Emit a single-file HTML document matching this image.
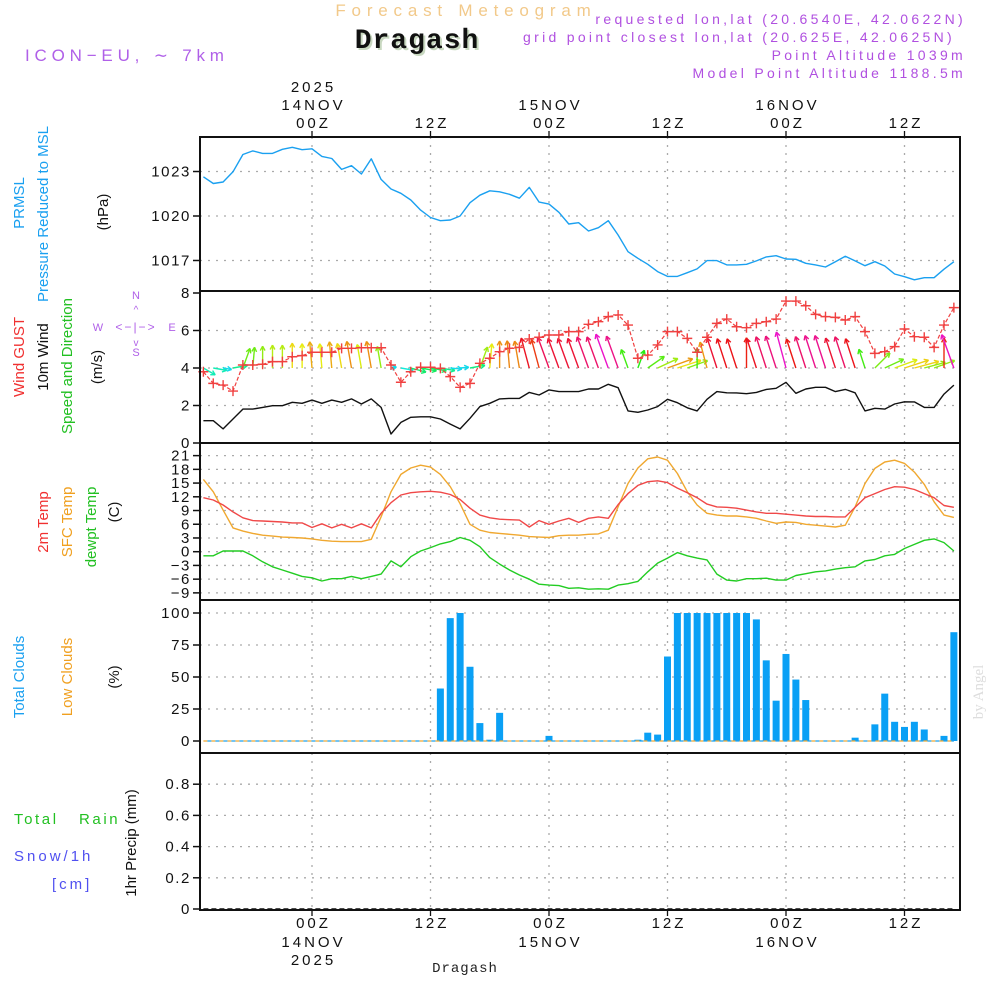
<!DOCTYPE html>
<html><head><meta charset="utf-8"><title>Meteogram Dragash</title>
<style>
html,body{margin:0;padding:0;background:#fff;}
svg{display:block;font-family:"Liberation Sans",sans-serif;}
.tk{font-size:15px;fill:#111;letter-spacing:1.6px;}
.tt{font-size:15px;fill:#111;letter-spacing:3px;}
</style></head>
<body>
<svg id="chart" width="1000" height="1000" viewBox="0 0 1000 1000" xmlns="http://www.w3.org/2000/svg">
<rect width="1000" height="1000" fill="#fff"/>
<text x="466" y="16" text-anchor="middle" font-size="17" fill="#f2c98a" letter-spacing="5.8">Forecast Meteogram</text>
<text x="419" y="50" text-anchor="middle" font-family="Liberation Mono,monospace" font-weight="bold" font-size="28" fill="#c8d8c0" letter-spacing="1">Dragash</text>
<text x="417" y="48" text-anchor="middle" font-family="Liberation Mono,monospace" font-weight="bold" font-size="28" fill="#111" letter-spacing="1">Dragash</text>
<text x="25" y="61" font-size="17" fill="#b060e8" letter-spacing="4.8">ICON−EU, ∼ 7km</text>
<g font-size="14" fill="#b050e0" text-anchor="end" letter-spacing="3.3">
<text x="966" y="24">requested lon,lat (20.6540E, 42.0622N)</text>
<text x="955" y="42">grid point closest lon,lat (20.625E, 42.0625N)</text>
<text x="966" y="60">Point Altitude 1039m</text>
<text x="966" y="78">Model Point Altitude 1188.5m</text>
</g>
<g id="axes"></g>
<g id="marks"></g>
<g id="labels" font-size="15">
<text transform="translate(24,203) rotate(-90)" text-anchor="middle" fill="#1aa0f0">PRMSL</text>
<text transform="translate(48,214) rotate(-90)" text-anchor="middle" fill="#1aa0f0">Pressure Reduced to MSL</text>
<text transform="translate(108,212) rotate(-90)" text-anchor="middle" fill="#111">(hPa)</text>
<text transform="translate(24,357) rotate(-90)" text-anchor="middle" fill="#f03030">Wind GUST</text>
<text transform="translate(48,357) rotate(-90)" text-anchor="middle" fill="#111">10m Wind</text>
<text transform="translate(72,366) rotate(-90)" text-anchor="middle" fill="#22c022">Speed and Direction</text>
<text transform="translate(102,367) rotate(-90)" text-anchor="middle" fill="#111">(m/s)</text>
<g font-size="11" fill="#b060e8" text-anchor="middle">
<text x="136" y="299">N</text><text x="136" y="356">S</text><text x="98" y="331">W</text><text x="172" y="331">E</text>
<text x="136" y="331" font-size="12" letter-spacing="2">&lt;−|−&gt;</text>
<text x="136" y="313" font-size="10">^</text><text x="136" y="346" font-size="10">v</text>
</g>
<text transform="translate(48,522) rotate(-90)" text-anchor="middle" fill="#f03030">2m Temp</text>
<text transform="translate(72,522) rotate(-90)" text-anchor="middle" fill="#f0a020">SFC Temp</text>
<text transform="translate(96,527) rotate(-90)" text-anchor="middle" fill="#22c022">dewpt Temp</text>
<text transform="translate(119,512) rotate(-90)" text-anchor="middle" fill="#111">(C)</text>
<text transform="translate(24,677) rotate(-90)" text-anchor="middle" fill="#1aa0f0">Total Clouds</text>
<text transform="translate(72,677) rotate(-90)" text-anchor="middle" fill="#f0a020">Low Clouds</text>
<text transform="translate(119,677) rotate(-90)" text-anchor="middle" fill="#111">(%)</text>
<text x="14" y="824" fill="#22c022" letter-spacing="2.6" xml:space="preserve">Total   Rain</text>
<text x="14" y="861" fill="#5050f0" letter-spacing="3">Snow/1h</text>
<text x="52" y="889" fill="#5050f0" letter-spacing="3">[cm]</text>
<text transform="translate(136,843) rotate(-90)" text-anchor="middle" fill="#111">1hr Precip (mm)</text>
<text transform="translate(983,692) rotate(-90)" text-anchor="middle" font-family="Liberation Serif,serif" font-size="15" fill="#ddd">by Angel</text>
<text x="465" y="972" text-anchor="middle" font-family="Liberation Mono,monospace" font-size="14" fill="#222" letter-spacing="1">Dragash</text>
</g>
</svg>
<script>
// hours relative to 14NOV 00Z
const hours = [];
for (let h = -11; h <= 65; h++) hours.push(h);
const pressure = [1022.64,1022.19,1022.29,1022.98,1024.15,1024.39,1024.22,1024.22,1024.5,1024.63,1024.47,1024.53,1024.02,1023.88,1023.14,1023.39,1022.83,1023.86,1022.47,1021.82,1021.53,1021.08,1020.4,1019.9,1019.68,1019.73,1020.0,1020.9,1021.4,1021.7,1021.63,1021.46,1021.2,1021.93,1020.94,1020.8,1020.25,1019.46,1019.55,1018.99,1019.21,1019.68,1018.72,1017.59,1017.15,1016.74,1016.25,1015.93,1015.93,1016.18,1016.43,1016.99,1016.99,1016.70,1016.70,1016.74,1016.97,1017.24,1017.32,1017.1,1017.08,1016.81,1016.70,1016.56,1016.92,1017.28,1016.97,1016.65,1016.92,1016.63,1016.09,1015.91,1015.70,1015.84,1015.84,1016.41,1016.92];
const windSpeed = [1.19,1.19,0.75,1.28,1.81,1.81,1.90,1.99,1.99,2.17,2.12,2.29,2.12,2.29,2.17,2.35,2.08,2.35,1.90,0.48,1.10,1.37,1.40,1.40,1.28,1.01,0.75,1.32,1.94,2.12,2.35,2.38,2.38,2.70,2.56,2.83,2.74,2.74,2.74,2.88,2.88,3.13,2.95,1.71,1.64,1.76,1.94,2.33,2.15,1.88,1.71,2.33,2.74,2.68,2.67,2.63,2.70,2.86,2.92,3.24,2.65,2.88,2.97,2.97,2.74,2.86,2.68,1.71,1.85,1.81,2.08,2.20,2.19,1.90,1.90,2.61,3.09];
const windGust = [3.80,3.18,3.09,2.77,4.16,4.16,4.20,4.34,4.34,4.60,4.66,4.84,4.84,4.84,5.05,5.05,5.08,5.08,5.08,4.16,3.24,3.80,4.04,4.04,3.98,3.54,2.97,3.18,4.25,4.52,4.87,5.05,5.10,5.55,5.64,5.76,5.76,5.94,5.94,6.33,6.47,6.74,6.83,6.29,4.52,4.69,5.23,5.94,5.94,5.58,4.84,5.64,6.38,6.61,6.20,6.15,6.38,6.47,6.61,7.57,7.57,7.32,6.86,6.74,6.70,6.56,6.74,5.94,4.78,4.87,5.14,6.08,5.67,5.64,5.10,6.29,7.22];
const windDir = [120,100,100,80,20,5,0,0,0,0,0,-5,-5,-5,-10,-10,-10,-10,-10,80,100,105,100,100,100,95,85,80,20,5,0,-5,-10,-15,-15,-20,-20,-20,-20,-20,-20,-20,-20,-20,20,55,65,70,72,70,0,-15,-18,-18,-18,0,-18,-18,-18,-15,-18,-18,-18,-18,-18,-18,-18,-18,45,65,70,72,75,75,70,0,-20];
const temp2m = [11.8,11.3,10.2,8.7,7.4,6.8,6.7,6.6,6.5,6.3,6.3,5.3,6.1,5.2,6.0,5.2,6.1,5.2,8.4,10.7,12.4,12.9,13.1,13.2,13.0,12.5,11.4,9.5,8.0,7.4,7.1,7.0,6.9,5.4,6.8,6.0,6.7,7.3,6.4,7.3,7.6,7.3,10.3,12.7,14.5,15.3,15.5,15.1,13.9,12.9,11.8,10.4,9.8,9.7,9.5,9.1,8.7,8.4,8.4,8.2,8.0,7.8,7.7,7.7,7.6,7.6,9.7,11.8,12.7,13.6,14.2,14.1,13.6,12.7,11.8,10.1,9.7];
const tempSfc = [15.8,13.1,9.1,5.2,4.5,4.0,3.6,3.4,3.2,3.1,3.0,2.8,2.5,2.3,2.2,2.2,2.2,2.7,7.6,13.1,16.9,18.3,18.9,18.5,16.9,14.2,10.5,6.0,4.7,4.2,4.0,3.8,3.6,3.3,3.2,3.1,3.5,3.6,3.6,3.8,3.9,4.7,9.8,14.9,18.3,20.3,20.7,20.0,17.1,13.1,10.2,8.4,8.0,7.8,7.8,7.6,7.3,6.7,6.2,6.5,6.4,6.0,5.8,5.6,5.4,5.8,9.8,14.9,18.2,19.6,20.0,19.3,17.4,14.7,10.9,8.0,7.5];
const dewpt = [-0.9,-0.9,0.15,0.15,0.15,-0.9,-2.2,-3.3,-4.0,-4.7,-5.4,-5.7,-6.4,-5.9,-5.9,-5.4,-5.9,-5.4,-4.9,-2.0,-3.3,-1.1,0.15,0.9,1.7,2.2,3.1,2.5,1.1,-1.3,-2.7,-4.0,-5.1,-6.0,-7.1,-7.3,-7.4,-8.0,-7.9,-8.2,-8.1,-8.2,-7.3,-7.0,-6.5,-4.4,-2.5,-1.4,-0.2,-0.9,-1.4,-1.8,-4.9,-6.2,-6.4,-5.9,-5.9,-5.8,-6.2,-6.2,-5.2,-4.8,-4.4,-4.2,-3.8,-3.5,-3.3,-2.0,-1.7,-0.9,-0.6,0.7,1.6,2.5,2.8,2.0,0.15];
const totalClouds = [0,0,0,0,0,0,0,0,0,0,0,0,0,0,0,0,0,0,0,0,0,0,0,0,41,96,100,58,14,1,22,0,0,0,0,4,0,0,0,0,0,0,0,0,1,6.5,5,66,100,100,100,100,100,100,100,100,95,63,31.5,68,48,32,0,0,0,0,2.6,0,13,37,15,11,15,9,0,4,85];
const lowClouds = hours.map(() => 0);
const precip = hours.map(() => 0);
const pTicks = [1023,1020,1017];
const wTicks = [0,2,4,6,8];
const tTicks = [21,18,15,12,9,6,3,0,-3,-6,-9];
const cTicks = [0,25,50,75,100];
const rTicks = [0,0.2,0.4,0.6,0.8];
const timeTicks = [0,12,24,36,48,60];
const timeLabels = ["00Z","12Z","00Z","12Z","00Z","12Z"];
const dayLabels = ["14NOV","","15NOV","","16NOV",""];

const NS = "http://www.w3.org/2000/svg";
const axes = document.getElementById('axes'), marks = document.getElementById('marks');
function el(tag, attrs, parent){const e=document.createElementNS(NS,tag);for(const k in attrs)e.setAttribute(k,attrs[k]);(parent||marks).appendChild(e);return e;}
const L=200,R=960;
const xs = h => 312 + h*9.875;
const yP = v => 216 - (v-1020)*14.83;
const yW = v => 443 - v*18.75;
const yT = v => 551.7 - v*4.575;
const yC = v => 741 - v*1.28;
const yR = v => 909 - v*156;
const panels = [[137,291],[291,443],[443,600],[600,753],[753,910]];

timeTicks.forEach(h=>{
  const g=el('line',{x1:xs(h),x2:xs(h),y1:137,y2:910,stroke:'#aaa','stroke-width':1.3,'stroke-dasharray':'2,6'},axes);
  
  
});
function hgrid(ticks, f, skip){
  ticks.forEach(v=>{ if(skip && skip.includes(v)) return;
    const g=el('line',{x1:L,x2:R,y1:f(v),y2:f(v),stroke:'#aaa','stroke-width':1.3,'stroke-dasharray':'2,6'},axes);
    
    
  });
}
hgrid(pTicks,yP); hgrid(wTicks,yW,[0,8]); hgrid(tTicks,yT); hgrid(cTicks,yC,[0]); hgrid(rTicks,yR,[0]);
function yticks(ticks,f,name){
  ticks.forEach(v=>{
    const t=el('line',{x1:L-7,x2:L,y1:f(v),y2:f(v),stroke:'#111','stroke-width':1.5},axes);
    
    
    const tx=el('text',{x:L-9,y:f(v)+5,'text-anchor':'end',class:'tk'},axes);
    
    
    tx.textContent = String(v).replace('-','−');
  });
}
yticks(pTicks,yP,'pressure'); yticks(wTicks,yW,'wind'); yticks(tTicks,yT,'temp'); yticks(cTicks,yC,'cloud'); yticks(rTicks,yR,'precip');
timeTicks.forEach((h,i)=>{
  el('line',{x1:xs(h),x2:xs(h),y1:131,y2:137,stroke:'#111','stroke-width':1.3},axes);
  el('line',{x1:xs(h),x2:xs(h),y1:910,y2:916,stroke:'#111','stroke-width':1.3},axes);
  const t1=el('text',{x:xs(h)+1.5,y:128,'text-anchor':'middle',class:'tt'},axes);
  
  
  t1.textContent=timeLabels[i];
  const t2=el('text',{x:xs(h)+1.5,y:928,'text-anchor':'middle',class:'tt'},axes);
  
  
  t2.textContent=timeLabels[i];
  if(dayLabels[i]){
    const d1=el('text',{x:xs(h)+1.5,y:110,'text-anchor':'middle',class:'tt'},axes);
    
    
    d1.textContent=dayLabels[i];
    const d2=el('text',{x:xs(h)+1.5,y:947,'text-anchor':'middle',class:'tt'},axes);
    
    
    d2.textContent=dayLabels[i];
  }
});
[92,965].forEach(y=>{
  const t=el('text',{x:xs(0)+1.5,y:y,'text-anchor':'middle',class:'tt'},axes);
  
  
  t.textContent='2025';
});

function line(vals,f,color,name,w){
  const d=vals.map((v,i)=>(i?'L':'M')+xs(hours[i]).toFixed(1)+','+f(v).toFixed(1)).join('');
  const p=el('path',{d:d,fill:'none',stroke:color,'stroke-width':w||1.4,'stroke-linejoin':'round'});
  
  
  return p;
}
line(pressure,yP,'#1aa0f0','pressure-line');
function arrowColor(s){let hue=175-(s-1.1)*112;if(hue>185)hue=185;if(hue<-50)hue=-50;if(hue<0)hue+=360;return 'hsl('+hue.toFixed(0)+',85%,50%)';}
hours.forEach((h,i)=>{
  const s=windSpeed[i], a=windDir[i]*Math.PI/180, len=s*11.5;
  const x0=xs(h), y0=yW(4), x1=x0+Math.sin(a)*len, y1=y0-Math.cos(a)*len;
  const c=arrowColor(s);
  const g=el('g',{stroke:c,'stroke-width':1.4,fill:'none'});
  
  
  el('line',{x1:x0,y1:y0,x2:x1,y2:y1},g);
  const hl=5;
  [a+Math.PI-0.5,a+Math.PI+0.5].forEach(b=>el('line',{x1:x1,y1:y1,x2:x1+Math.sin(b)*hl,y2:y1-Math.cos(b)*hl},g));
});
const gl=line(windGust,yW,'#f04040','wind-gust-line',1.2);
gl.setAttribute('stroke-dasharray','4,2');
hours.forEach((h,i)=>{
  const x=xs(h),y=yW(windGust[i]);
  const m=el('path',{d:`M${x-5},${y}H${x+5}M${x},${y-5}V${y+5}`,stroke:'#f04040','stroke-width':1.4});
  
  
});
line(windSpeed,yW,'#111','wind-speed-line');
line(tempSfc,yT,'#f0a830','sfc-temp-line');
line(temp2m,yT,'#f04848','temp-2m-line');
line(dewpt,yT,'#22cc22','dewpt-line');
hours.forEach((h,i)=>{
  const v=totalClouds[i]; if(v<=0) return;
  const b=el('rect',{x:xs(h)-3.5,y:yC(v),width:7,height:yC(0)-yC(v),fill:'#0aa0f5'});
  
  
});
const lc=line(lowClouds,yC,'#f0a830','low-clouds-line',1.2); lc.setAttribute('stroke-dasharray','4,4');
const tc=line(hours.map(()=>0),yC,'#1aa0f0','total-clouds-baseline',1.2); tc.setAttribute('stroke-dasharray','4,4'); tc.setAttribute('stroke-dashoffset','4');
const pr=line(precip,yR,'#111','precip-line',1.4); pr.setAttribute('stroke-dasharray','5,3');
panels.forEach(p=>{
  const r=el('rect',{x:L,y:p[0],width:R-L,height:p[1]-p[0],fill:'none',stroke:'#111','stroke-width':2});
  
  
});
</script>
</body></html>
